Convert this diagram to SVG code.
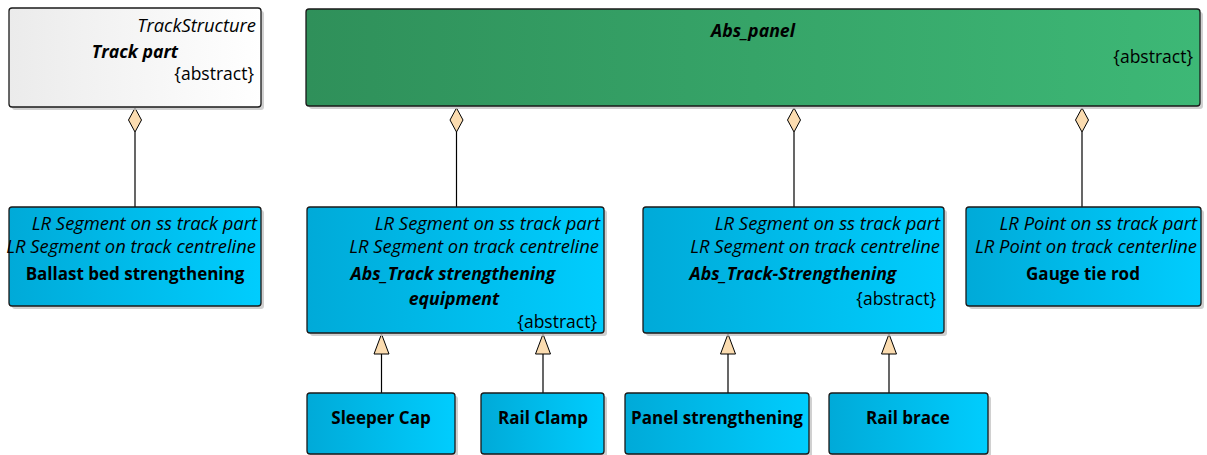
<svg xmlns="http://www.w3.org/2000/svg" width="1207" height="455" viewBox="0 0 1207 455">
<defs>
<linearGradient id="gBlue" x1="0" y1="0" x2="1" y2="0"><stop offset="0" stop-color="#00aad8"/><stop offset="1" stop-color="#00cdfe"/></linearGradient>
<linearGradient id="gGreen" x1="0" y1="0" x2="1" y2="0"><stop offset="0" stop-color="#2f905a"/><stop offset="1" stop-color="#3db876"/></linearGradient>
<linearGradient id="gWhite" x1="0" y1="0" x2="1" y2="0"><stop offset="0" stop-color="#ebebeb"/><stop offset="1" stop-color="#ffffff"/></linearGradient>
</defs>
<style>
.box{stroke:#1a1a1a;stroke-width:1.3}
.sh{fill:#c4c4c4;opacity:0.8}
.blue{fill:url(#gBlue)}
.green{fill:url(#gGreen)}
.white{fill:url(#gWhite)}
text{font-family:"Open Sans","Noto Sans","Liberation Sans",sans-serif;font-size:17.5px;fill:#000}
.it{font-style:italic;font-size:18.4px}
.b{font-weight:bold;font-size:17px}
.it.b{font-size:17.7px}
.r{text-anchor:end}
.c{text-anchor:middle}
.ln{stroke:#000;stroke-width:1.2;fill:none}
.dia{fill:#fbdcb0;stroke:#000;stroke-width:1}
.tri{fill:#fbdcb0;stroke:#000;stroke-width:1}
</style>
<g id="connectors">
<line class="ln" x1="135" y1="132" x2="135" y2="207"/>
<polygon class="dia" points="135,108 141.5,120 135,132 128.5,120"/>
<line class="ln" x1="456.5" y1="132" x2="456.5" y2="207"/>
<polygon class="dia" points="456.5,108 463,120 456.5,132 450,120"/>
<line class="ln" x1="794" y1="132" x2="794" y2="207"/>
<polygon class="dia" points="794,108 800.5,120 794,132 787.5,120"/>
<line class="ln" x1="1082" y1="132" x2="1082" y2="207"/>
<polygon class="dia" points="1082,108 1088.5,120 1082,132 1075.5,120"/>
<line class="ln" x1="381.5" y1="354" x2="381.5" y2="393"/>
<polygon class="tri" points="381.5,334 389,354 374,354"/>
<line class="ln" x1="543" y1="354" x2="543" y2="393"/>
<polygon class="tri" points="543,334 550.5,354 535.5,354"/>
<line class="ln" x1="728" y1="354" x2="728" y2="393"/>
<polygon class="tri" points="728,334 735.5,354 720.5,354"/>
<line class="ln" x1="889" y1="354" x2="889" y2="393"/>
<polygon class="tri" points="889,334 896.5,354 881.5,354"/>
</g>
<g id="track-part">
<rect class="sh" x="12" y="11" width="252" height="99" rx="3"/>
<rect class="box white" x="9" y="8" width="252" height="99" rx="3"/>
<text class="it r" x="256" y="32">TrackStructure</text>
<text class="it b c" x="135" y="58">Track part</text>
<text class="r" x="254" y="80">{abstract}</text>
</g>
<g id="abs-panel">
<rect class="sh" x="309" y="12" width="894" height="97" rx="3"/>
<rect class="box green" x="306" y="9" width="894" height="97" rx="3"/>
<text class="it b c" x="753" y="37">Abs_panel</text>
<text class="r" x="1193" y="63">{abstract}</text>
</g>
<g id="ballast">
<rect class="sh" x="12" y="210" width="252" height="99" rx="3"/>
<rect class="box blue" x="9" y="207" width="252" height="99" rx="3"/>
<text class="it r" x="257" y="230">LR Segment on ss track part</text>
<text class="it r" x="256" y="253">LR Segment on track centreline</text>
<text class="b c" x="135" y="280">Ballast bed strengthening</text>
</g>
<g id="abs-track-equip">
<rect class="sh" x="310" y="210" width="297" height="126" rx="3"/>
<rect class="box blue" x="307" y="207" width="297" height="126" rx="3"/>
<text class="it r" x="600" y="230">LR Segment on ss track part</text>
<text class="it r" x="599" y="253">LR Segment on track centreline</text>
<text class="it b c" x="453" y="280">Abs_Track strengthening</text>
<text class="it b c" x="454" y="305">equipment</text>
<text class="r" x="597" y="328">{abstract}</text>
</g>
<g id="abs-track-str">
<rect class="sh" x="646" y="210" width="301" height="126" rx="3"/>
<rect class="box blue" x="643" y="207" width="301" height="126" rx="3"/>
<text class="it r" x="940" y="230">LR Segment on ss track part</text>
<text class="it r" x="940" y="253">LR Segment on track centreline</text>
<text class="it b c" x="793" y="280">Abs_Track-Strengthening</text>
<text class="r" x="936" y="305">{abstract}</text>
</g>
<g id="gauge">
<rect class="sh" x="969" y="210" width="235" height="99" rx="3"/>
<rect class="box blue" x="966" y="207" width="235" height="99" rx="3"/>
<text class="it r" x="1197" y="230">LR Point on ss track part</text>
<text class="it r" x="1197" y="253">LR Point on track centerline</text>
<text class="b c" x="1083" y="280">Gauge tie rod</text>
</g>
<g id="sleeper">
<rect class="sh" x="310" y="396" width="148" height="62" rx="3"/>
<rect class="box blue" x="307" y="393" width="148" height="61" rx="3"/>
<text class="b c" x="381" y="424">Sleeper Cap</text>
</g>
<g id="clamp">
<rect class="sh" x="484" y="396" width="123" height="62" rx="3"/>
<rect class="box blue" x="481" y="393" width="123" height="61" rx="3"/>
<text class="b c" x="543" y="424">Rail Clamp</text>
</g>
<g id="panel-str">
<rect class="sh" x="628" y="396" width="184" height="62" rx="3"/>
<rect class="box blue" x="625" y="393" width="184" height="61" rx="3"/>
<text class="b c" x="717" y="424">Panel strengthening</text>
</g>
<g id="brace">
<rect class="sh" x="832" y="396" width="159" height="62" rx="3"/>
<rect class="box blue" x="829" y="393" width="159" height="61" rx="3"/>
<text class="b c" x="908" y="424">Rail brace</text>
</g>
</svg>
